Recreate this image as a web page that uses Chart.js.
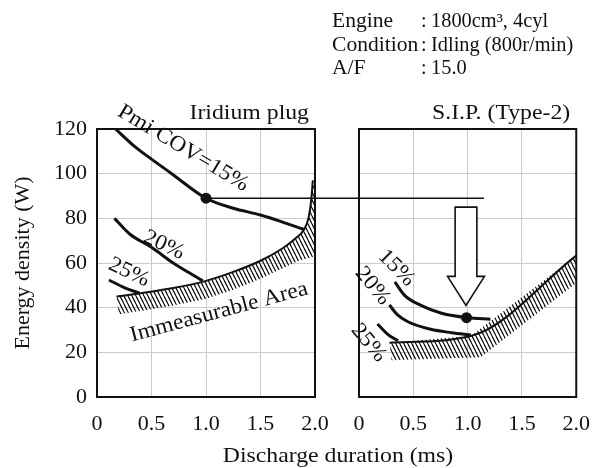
<!DOCTYPE html>
<html>
<head>
<meta charset="utf-8">
<script src="https://cdn.jsdelivr.net/npm/chart.js@4/dist/chart.umd.min.js"></script>
<style>
  html, body { margin: 0; padding: 0; background: #fff; overflow: hidden; }
  #wrap { position: relative; width: 593px; height: 468px; overflow: hidden; }
  #wrap canvas { position: absolute; left: 0; top: 0; }
</style>
</head>
<body>
<div id="wrap">
  <canvas id="left" width="593" height="468"></canvas>
  <canvas id="right" width="604" height="468"></canvas>
</div>
<script>
const xTickLabels = ['0', '0.5', '1.0', '1.5', '2.0'];
const yTickLabels = ['0', '20', '40', '60', '80', '100', '120'];

// Iridium plug: Pmi COV iso-lines, [discharge duration ms, energy density W]
const iridium15 = [[0.17, 120], [0.35, 112], [0.5, 106.5], [0.685, 100], [1.0, 89], [1.25, 84.5], [1.5, 81.5], [1.75, 77.5], [1.9, 75]];
const iridium20 = [[0.16, 80], [0.3, 73], [0.5, 67], [0.7, 60], [0.85, 55.5], [0.97, 52]];
const iridium25 = [[0.11, 52.4], [0.26, 48.8], [0.39, 46.5]];
const iridiumLimitTop = [[0.18, 45], [0.4, 46.5], [0.7, 48.8], [1.0, 52], [1.25, 56], [1.5, 61], [1.7, 66.5], [1.82, 71], [1.9, 75], [1.94, 80], [1.965, 88], [1.98, 97]];
const iridiumLimitBottom = [[0.2, 37], [0.4, 38.5], [0.7, 41], [1.0, 44], [1.25, 48], [1.5, 53], [1.7, 57.5], [1.85, 61], [2.0, 63], [2.0, 97]];
const iridiumPoint = [[1.0, 89]];

// S.I.P. (Type-2)
const sip15 = [[0.33, 51.6], [0.42, 45.5], [0.57, 41], [0.76, 37.5], [1.0, 35.5], [1.21, 34.8]];
const sip20 = [[0.28, 41.2], [0.35, 37], [0.45, 33.7], [0.66, 30.3], [0.85, 28.8], [1.03, 27.8]];
const sip25 = [[0.17, 32.7], [0.27, 27.8], [0.36, 25.2]];
const sipLimitTop = [[0.28, 24.3], [1.03, 27.3], [2.0, 63.3]];
const sipLimitBottom = [[0.3, 16.5], [1.12, 17.8], [2.0, 51]];
const sipPoint = [[0.99, 35.5]];

// same energy level carried from the iridium point over to the S.I.P. panel
const linkY = 89;
const linkFromX = 1.0;   // left panel
const linkToX = 1.15;    // right panel

const INK = '#111';
const GRID = '#cbcbcb';
const SERIF = '"Liberation Serif", "Times New Roman", serif';

const pts = a => a.map(p => ({ x: p[0], y: p[1] }));

function curve(data, width) {
  return {
    data: pts(data), borderColor: INK, borderWidth: width, pointRadius: 0,
    cubicInterpolationMode: 'monotone', fill: false
  };
}

function dot(data) {
  return {
    data: pts(data), showLine: false, pointRadius: 5.5,
    pointBackgroundColor: INK, pointBorderColor: INK, pointBorderWidth: 0
  };
}

function text(ctx, str, x, y, o) {
  o = o || {};
  ctx.save();
  ctx.translate(x, y);
  ctx.rotate((o.angle || 0) * Math.PI / 180);
  ctx.scale(o.sx || 1, 1);
  ctx.font = (o.size || 22) + 'px ' + SERIF;
  ctx.fillStyle = INK;
  ctx.textAlign = o.align || 'center';
  ctx.textBaseline = o.baseline || 'middle';
  ctx.fillText(str, 0, 0);
  ctx.restore();
}

// steep back-slash hatching for the immeasurable region
function hatch(ctx) {
  const c = document.createElement('canvas');
  c.width = 4; c.height = 8;
  const g = c.getContext('2d');
  g.strokeStyle = INK;
  g.lineWidth = 1.25;
  for (const x0 of [-4, 0, 4]) {
    g.beginPath(); g.moveTo(x0, 0); g.lineTo(x0 + 4, 8); g.stroke();
  }
  return ctx.createPattern(c, 'repeat');
}

function decor(spec) {
  return {
    id: 'decor',
    beforeDatasetsDraw(chart) {
      const { ctx, chartArea: a, scales: { x, y } } = chart;
      const poly = spec.limitTop.concat(spec.limitBottom.slice().reverse());
      ctx.save();
      ctx.beginPath();
      ctx.rect(a.left, a.top, a.right - a.left, a.bottom - a.top);
      ctx.clip();
      ctx.beginPath();
      poly.forEach((p, i) => {
        const px = x.getPixelForValue(p[0]), py = y.getPixelForValue(p[1]);
        i ? ctx.lineTo(px, py) : ctx.moveTo(px, py);
      });
      ctx.closePath();
      ctx.fillStyle = hatch(ctx);
      ctx.fill();
      ctx.restore();
    },
    afterDatasetsDraw(chart) {
      const { ctx, chartArea: a, scales: { x, y } } = chart;
      ctx.save();
      ctx.strokeStyle = INK;
      ctx.lineWidth = 2;
      ctx.strokeRect(a.left, a.top, a.right - a.left, a.bottom - a.top);
      ctx.restore();
      text(ctx, spec.title, a.right - 6, a.top - 10, { align: 'right', baseline: 'alphabetic', sx: 1.08 });
      spec.notes.forEach(n => text(ctx, n[0], x.getPixelForValue(n[1]), y.getPixelForValue(n[2]), { angle: n[3], sx: 1.06 }));
      if (spec.extra) spec.extra(chart);
    }
  };
}

function options(isLeft) {
  return {
    responsive: false, animation: false, devicePixelRatio: 1,
    layout: { padding: { top: 129, right: isLeft ? 278 : 16, bottom: 0, left: 0 } },
    plugins: { legend: { display: false }, tooltip: { enabled: false } },
    scales: {
      x: {
        type: 'linear', min: 0, max: 2,
        ticks: {
          stepSize: 0.5, padding: 14, color: INK, maxRotation: 0, autoSkip: false,
          font: { family: SERIF, size: 22 },
          callback: (v, i) => xTickLabels[i]
        },
        grid: { color: GRID, lineWidth: 1, drawTicks: false },
        border: { display: false },
        afterFit: s => { s.height = 71; }
      },
      y: {
        type: 'linear', min: 0, max: 120,
        ticks: {
          display: isLeft, stepSize: 20, padding: 10, color: INK,
          font: { family: SERIF, size: 22 },
          callback: (v, i) => yTickLabels[i]
        },
        title: {
          display: isLeft, text: 'Energy density (W)', color: INK,
          font: { family: SERIF, size: 22 }, padding: { top: 10, bottom: 0 }
        },
        grid: { color: GRID, lineWidth: 1, drawTicks: false },
        border: { display: false },
        afterFit: s => { s.width = isLeft ? 97 : 359; }
      }
    }
  };
}

const leftChart = new Chart(document.getElementById('left'), {
  type: 'line',
  data: {
    datasets: [
      curve(iridiumLimitTop, 2),
      curve(iridium15, 3),
      curve(iridium20, 3),
      curve(iridium25, 3),
      dot(iridiumPoint)
    ]
  },
  options: options(true),
  plugins: [decor({
    title: 'Iridium plug',
    limitTop: iridiumLimitTop,
    limitBottom: iridiumLimitBottom,
    notes: [
      ['Pmi COV=15%', 0.79, 111.4, 31],
      ['20%', 0.615, 68, 25],
      ['25%', 0.294, 55.8, 25],
      ['Immeasurable Area', 1.12, 38, -15]
    ],
    extra(chart) {
      const ctx = chart.ctx;
      const hx = 332, cx = 421, vx = 431;
      const rows = [
        ['Engine', '1800cm\u00B3, 4cyl'],
        ['Condition', 'Idling (800r/min)'],
        ['A/F', '15.0']
      ];
      rows.forEach((r, i) => {
        const by = 27 + i * 23.5;
        text(ctx, r[0], hx, by, { align: 'left', baseline: 'alphabetic', size: 20, sx: 1.08 });
        text(ctx, ':', cx, by, { align: 'left', baseline: 'alphabetic', size: 20 });
        text(ctx, r[1], vx, by, { align: 'left', baseline: 'alphabetic', size: 20, sx: 1.02 });
      });
      text(ctx, 'Discharge duration (ms)', 338, 461.5, { baseline: 'alphabetic', sx: 1.08 });
    }
  })]
});

new Chart(document.getElementById('right'), {
  type: 'line',
  data: {
    datasets: [
      curve(sipLimitTop, 2),
      curve(sip15, 3),
      curve(sip20, 3),
      curve(sip25, 3),
      dot(sipPoint)
    ]
  },
  options: options(false),
  plugins: [decor({
    title: 'S.I.P. (Type-2)',
    limitTop: sipLimitTop,
    limitBottom: sipLimitBottom,
    notes: [
      ['15%', 0.345, 57.8, 45],
      ['20%', 0.125, 49.7, 50],
      ['25%', 0.09, 24.2, 50]
    ],
    extra(chart) {
      const { ctx, scales: { x, y } } = chart;
      // horizontal link from the iridium point
      const py = y.getPixelForValue(linkY);
      ctx.save();
      ctx.strokeStyle = INK;
      ctx.lineWidth = 1.5;
      ctx.beginPath();
      ctx.moveTo(leftChart.scales.x.getPixelForValue(linkFromX), py);
      ctx.lineTo(x.getPixelForValue(linkToX), py);
      ctx.stroke();

      // hollow block arrow pointing down to the S.I.P. point
      const ax = 0.985, shaft = 0.1, head = 0.17;
      const top = 85, neck = 54, tip = 41;
      const P = (vx, vy) => [x.getPixelForValue(vx), y.getPixelForValue(vy)];
      const path = [
        P(ax - shaft, top), P(ax + shaft, top), P(ax + shaft, neck), P(ax + head, neck),
        P(ax, tip), P(ax - head, neck), P(ax - shaft, neck)
      ];
      ctx.beginPath();
      path.forEach((p, i) => i ? ctx.lineTo(p[0], p[1]) : ctx.moveTo(p[0], p[1]));
      ctx.closePath();
      ctx.fillStyle = '#fff';
      ctx.fill();
      ctx.lineWidth = 1.6;
      ctx.stroke();
      ctx.restore();
    }
  })]
});
</script>
</body>
</html>
